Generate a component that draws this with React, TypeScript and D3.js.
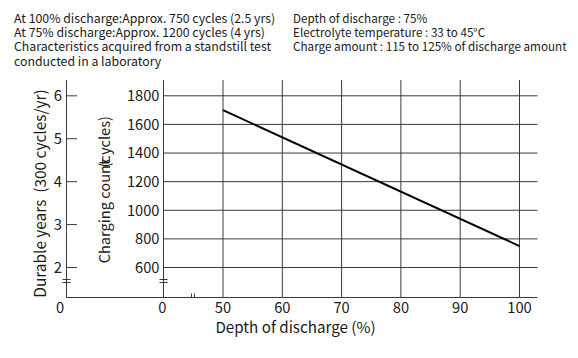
import React from "react";
import * as d3 from "d3";

const depthTicks = [50, 60, 70, 80, 90, 100];
const cycleTicks = [600, 800, 1000, 1200, 1400, 1600, 1800];
const yearTicks = [2, 3, 4, 5, 6];
const lineDepth = [50, 100];
const lineCycles = [1700, 750];
const notesLeft = [
  "At 100% discharge:Approx. 750 cycles (2.5 yrs)",
  "At 75% discharge:Approx. 1200 cycles (4 yrs)",
  "Characteristics acquired from a standstill test",
  "conducted in a laboratory",
];
const notesRight = [
  "Depth of discharge : 75%",
  "Electrolyte temperature : 33 to 45\u00b0C",
  "Charge amount : 115 to 125% of discharge amount",
];

const FONT = "'Noto Sans CJK JP', 'Noto Sans', sans-serif";

export default function App() {
  const W = 578, H = 358;
  const top = 80, bottom = 297.5;
  const axL = 66.5, axI = 163.5, right = 537.5;
  const x = d3.scaleLinear().domain([50, 100]).range([223, 519.5]);
  const y = d3.scaleLinear().domain([600, 1800]).range([267.5, 95.8]);
  const yy = d3.scaleLinear().domain([2, 6]).range([267.5, 95.8]);
  const pts = lineDepth.map((d, i) => [d, lineCycles[i]] as [number, number]);
  const line = d3.line<[number, number]>().x(d => x(d[0])).y(d => y(d[1]));
  const grid = "#3a3a3a";
  const txt = "#1a1a1a";
  const brkY = 281;
  return (
    <svg width={W} height={H} style={{ position: "absolute", left: 0, top: 0, background: "#fff" }} fontFamily={FONT}>
      <rect width={W} height={H} fill="#fff" />
      {notesLeft.map((t, i) => (
        <text key={"l" + i} x={14} y={23 + i * 14.2} fontSize={12.3} fill={txt}>{t}</text>
      ))}
      {notesRight.map((t, i) => (
        <text key={"r" + i} x={293} y={23 + i * 14.2} fontSize={11.7} fill={txt}>{t}</text>
      ))}
      {cycleTicks.map(c => (
        <line key={"h" + c} x1={axI} x2={right} y1={y(c)} y2={y(c)} stroke={grid} strokeWidth={1} />
      ))}
      {depthTicks.map(d => (
        <line key={"v" + d} x1={x(d)} x2={x(d)} y1={top} y2={bottom} stroke={grid} strokeWidth={1} />
      ))}
      <line x1={axL} x2={axL} y1={top} y2={bottom} stroke={grid} />
      <line x1={axI} x2={axI} y1={top} y2={bottom} stroke={grid} />
      <line x1={axL} x2={right} y1={bottom} y2={bottom} stroke={grid} />
      {yearTicks.map(v => (
        <g key={"y" + v}>
          <line x1={axL} x2={axL + 10.5} y1={yy(v)} y2={yy(v)} stroke={grid} />
          <text x={axL - 4.5} y={yy(v)} dy="0.36em" textAnchor="end" fontSize={14.8} fill={txt}>{v}</text>
        </g>
      ))}
      {cycleTicks.map(c => (
        <text key={"c" + c} x={axI - 4} y={y(c)} dy="0.36em" textAnchor="end" fontSize={14.7} fill={txt}>{c}</text>
      ))}
      {depthTicks.map(d => (
        <text key={"d" + d} x={x(d)} y={313} textAnchor="middle" fontSize={14.7} fill={txt}>{d}</text>
      ))}
      <text x={60} y={313} textAnchor="middle" fontSize={14.7} fill={txt}>0</text>
      <text x={162.3} y={313} textAnchor="middle" fontSize={14.7} fill={txt}>0</text>
      {[axL, axI].map(ax => (
        <g key={"b" + ax}>
          <line x1={ax - 4} x2={ax + 4} y1={brkY - 1.5} y2={brkY - 1.5} stroke={grid} />
          <line x1={ax - 4} x2={ax + 4} y1={brkY + 1.5} y2={brkY + 1.5} stroke={grid} />
        </g>
      ))}
      <line x1={191.5} x2={191.5} y1={293.5} y2={bottom} stroke={grid} />
      <line x1={194.5} x2={194.5} y1={293.5} y2={bottom} stroke={grid} />
      <path d={line(pts) || ""} fill="none" stroke="#000" strokeWidth={2} />
      <text x={295.5} y={333} textAnchor="middle" fontSize={15.2} fill={txt}>Depth of discharge (%)</text>
      <text transform={`translate(46,193.5) rotate(-90)`} textAnchor="middle" fontSize={15.4} fill={txt} xmlSpace="preserve">Durable years  (300 cycles/yr)</text>
      <text transform={`translate(110,263.3) rotate(-90)`} textAnchor="start" fontSize={14.6} fill={txt}>
        Charging count<tspan dx={-8}>(cycles)</tspan>
      </text>
    </svg>
  );
}
